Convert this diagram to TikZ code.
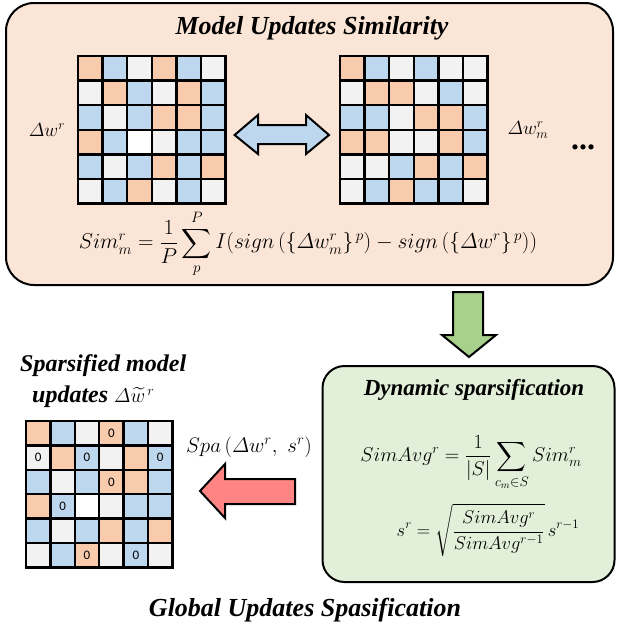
\RequirePackage{fix-cm}
\documentclass[tikz,border=0pt]{standalone}
\usepackage{amsmath}
\usepackage{fontspec}
\newfontfamily\tnr{Liberation Serif}
\newfontfamily\calib{Carlito}
\definecolor{cellO}{HTML}{F8CBAD}
\definecolor{cellB}{HTML}{BDD7EE}
\definecolor{cellG}{HTML}{F2F2F2}
\definecolor{cellW}{HTML}{FFFFFF}
\definecolor{peach}{HTML}{FBE5D6}
\definecolor{lgreen}{HTML}{E2F0D9}
\definecolor{arrgreen}{HTML}{A9D18E}
\definecolor{arrred}{HTML}{FF8585}
\newcommand\drawgrid[4]{%
  \foreach \row [count=\r from 0] in {#4} {
    \foreach \c [count=\k from 0] in \row {
      \draw[line width=2.4pt, fill=cell\c] ({#1+\k*#3},{#2+\r*#3}) rectangle ++(#3,#3);
    }}}
\begin{document}
\begin{tikzpicture}[x=1pt,y=-1pt,
  panel/.style={draw=black, line width=2pt, rounded corners=#1},
  heading/.style={inner sep=0pt, font=\tnr\bfseries\itshape\fontsize{#1}{#1}\selectfont},
  mathlbl/.style={inner sep=0pt, font=\fontsize{#1}{#1}\selectfont},
  zero/.style={inner sep=0pt, font=\calib\fontsize{13}{13}\selectfont},
  blockarrow/.style={draw=black, line width=2pt, line join=miter}]
\useasboundingbox (0,0) rectangle (616,629);
% top panel
\node[panel=28pt, fill=peach, minimum width=607pt, minimum height=282pt] (top) at (309.5,144) {};
\node[heading=26] (title) at (312,28) {Model Updates Similarity};
\drawgrid{78}{56}{24.6}{{O,B,G,O,B,G},{G,O,B,G,O,B},{B,G,B,O,O,B},{O,B,W,G,B,B},{B,G,B,O,B,O},{G,B,O,G,B,G}}
\drawgrid{340}{56}{24.6}{{O,B,G,B,G,G},{G,O,O,G,B,G},{B,B,G,O,O,B},{O,O,G,G,O,B},{G,G,B,O,B,O},{G,B,O,B,B,G}}
\node[mathlbl=19] (dw) at (47,130) {$\varDelta w^r$};
\node[mathlbl=19] (dwm) at (528,130) {$\varDelta w_m^r$};
\node[inner sep=0pt, anchor=base, font=\tnr\bfseries\fontsize{32}{32}\selectfont] (dots) at (583,149) {...};
\draw[blockarrow, fill=cellB] (234.6,135) -- (258,115) -- (258,125) -- (306,125) -- (306,115) -- (329,135)
  -- (306,154) -- (306,144) -- (258,144) -- (258,154) -- cycle;
\node[mathlbl=21.5] (sim) at (308,244)
  {$\displaystyle Sim_m^r=\frac{1}{P}\sum_{p}^{P} I(sign\,(\{\varDelta w_m^r\}^{\,p})-sign\,(\{\varDelta w^r\}^{\,p}))$};
% green arrow
\draw[blockarrow, fill=arrgreen] (453,292) -- (483,292) -- (483,335) -- (496,335) -- (469,357) -- (442,335) -- (453,335) -- cycle;
% green panel
\node[panel=22pt, fill=lgreen, minimum width=292pt, minimum height=216pt] (dyn) at (468.5,474) {};
\node[heading=23] (dyntitle) at (474,390) {Dynamic sparsification};
\node[mathlbl=20] (avg) at (471,463) {$\displaystyle SimAvg^r=\frac{1}{|S|}\sum_{c_m\in S} Sim_m^r$};
\node[mathlbl=18.5] (sr) at (488,530) {$\displaystyle s^r=\sqrt{\frac{SimAvg^r}{SimAvg^{r-1}}}\,s^{r-1}$};
% red arrow
\draw[blockarrow, fill=arrred] (200,491) -- (225,464) -- (225,479) -- (295,479) -- (295,504) -- (225,504) -- (225,518) -- cycle;
\node[mathlbl=21] (spa) at (249,447) {$Spa\,(\varDelta w^r,\ s^r)$};
% sparsified
\node[heading=24, anchor=west] (sp1) at (20,366) {Sparsified model};
\node[heading=24, anchor=west] (sp2) at (32,397) {updates {\fontsize{20}{20}\selectfont$\varDelta\widetilde{w}^{\,r}$}};
\drawgrid{26}{421}{24.4}{{O,B,G,O,B,G},{G,O,B,G,O,B},{B,G,B,O,O,B},{O,B,W,G,B,B},{B,G,B,O,B,O},{G,B,O,G,B,G}}
\foreach \k/\r in {3/0,0/1,2/1,5/1,3/2,1/3,2/5,4/5}
  \node[zero] (z\k\r) at ({26+(\k+0.5)*24.4},{421+(\r+0.5)*24.4}) {0};
\node[heading=26] (global) at (305,610) {Global Updates Spasification};
\end{tikzpicture}
\end{document}
